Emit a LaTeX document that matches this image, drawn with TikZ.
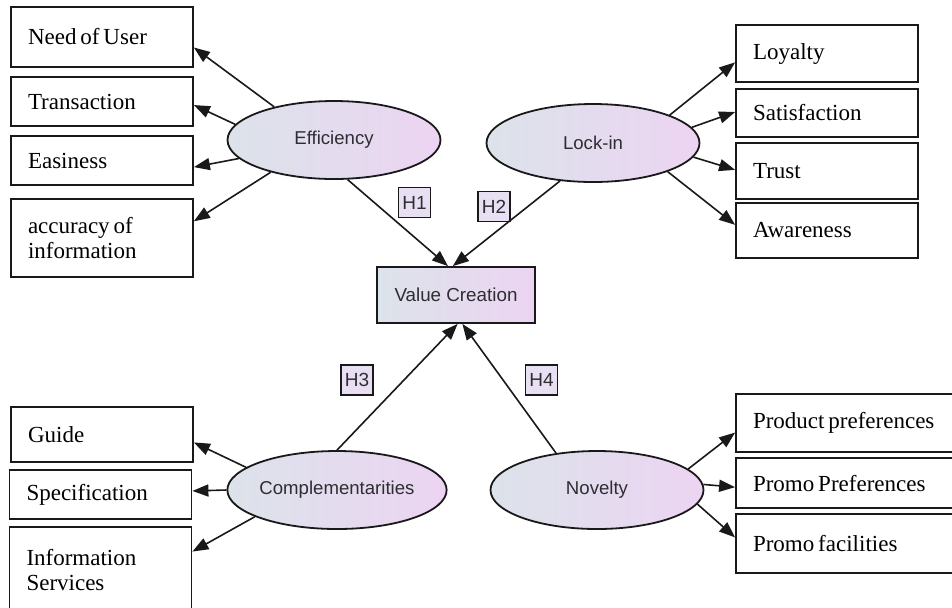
\documentclass[tikz,border=0pt]{standalone}
\usepackage{fontspec}
\setmainfont{Liberation Serif}
\setsansfont{Liberation Sans}
\usepackage{tikz}
\usetikzlibrary{arrows.meta,calc,shapes.geometric}
\definecolor{ink}{RGB}{25,25,25}
\definecolor{txt}{RGB}{45,45,50}
\definecolor{latL}{RGB}{220,227,234}
\definecolor{latR}{RGB}{236,212,242}
\definecolor{hfill}{RGB}{232,224,242}
\newcommand{\tightspace}{\spaceskip=0.17em\relax}
\tikzset{
  ind/.style={draw=ink,line width=0.9pt,rectangle,inner xsep=8.5pt,inner ysep=0pt,
    text width=74pt,align=left,font=\fontsize{11.5}{12.5}\selectfont,
    execute at begin node=\tightspace},
  lat/.style={draw=ink,line width=0.9pt,ellipse,inner sep=0pt,minimum width=106.5pt,
    minimum height=39pt,left color=latL,right color=latR,text=txt,font=\sffamily\fontsize{9.3}{10}\selectfont},
  vc/.style={draw=ink,line width=0.9pt,rectangle,minimum width=79pt,minimum height=28pt,
    left color=latL,right color=latR,text=txt,font=\sffamily\fontsize{9.4}{10}\selectfont},
  hyp/.style={draw=ink,line width=0.8pt,fill=hfill,inner sep=0pt,minimum width=16pt,
    minimum height=15pt,text=txt,font=\sffamily\fontsize{9.5}{10}\selectfont},
  arr/.style={-{Triangle[length=8pt,width=6pt]},line width=0.8pt,ink},
}

\begin{document}
\begin{tikzpicture}[x=0.5pt,y=-0.5pt]
  \clip (0,0) rectangle (952,607);
  % left top indicators
  \node[ind,minimum height=30pt] (need) at (102,37) {Need of User};
  \node[ind,minimum height=24.5pt] (trans) at (102,101.5) {Transaction};
  \node[ind,minimum height=24.5pt] (eas) at (102,160.5) {Easiness};
  \node[ind,minimum height=39pt] (acc) at (102,238) {accuracy of\\information};
  % right top indicators
  \node[ind,minimum height=28.5pt] (loy) at (827,53.5) {Loyalty};
  \node[ind,minimum height=24pt] (sat) at (827,113) {Satisfaction};
  \node[ind,minimum height=28pt] (tru) at (827,171) {Trust};
  \node[ind,minimum height=27.5pt] (awa) at (827,230.5) {Awareness};
  % left bottom indicators
  \node[ind,minimum height=27.5pt] (gui) at (102,434.5) {Guide};
  \node[ind,minimum height=24.5pt] (spe) at (100.5,494.5) {Specification};
  \node[ind,minimum height=43pt] (inf) at (100.5,570) {Information\\Services};
  % right bottom indicators
  \node[ind,text width=98pt,minimum height=29pt] (pro) at (851,423) {Product preferences};
  \node[ind,text width=98pt,minimum height=25pt] (ppr) at (851,483) {Promo Preferences};
  \node[ind,text width=98pt,minimum height=29.5pt] (pfa) at (851,543.5) {Promo facilities};

  % latent variables
  \node[lat] (eff) at (334,140) {Efficiency};
  \node[lat] (lock) at (593,143) {Lock-in};
  \node[lat] (comp) at (337,490) {Complementarities};
  \node[lat] (nov) at (597,490) {Novelty};
  \node[vc] (val) at (456,295) {Value Creation};

  % hypotheses
  \node[hyp] (h1) at (414.5,202.5) {H1};
  \node[hyp] (h2) at (494,206.5) {H2};
  \node[hyp] (h3) at (357,380) {H3};
  \node[hyp] (h4) at (541.5,380) {H4};

  % efficiency
  \draw[arr] (eff.151) -- ($(need.south east)!.33!(need.north east)$);
  \draw[arr] (eff.171) -- ($(trans.south east)!.43!(trans.north east)$);
  \draw[arr] (eff.191) -- ($(eas.south east)!.37!(eas.north east)$);
  \draw[arr] (eff.207) -- ($(acc.south east)!.71!(acc.north east)$);
  % lock-in
  \draw[arr] (lock.20) -- ($(loy.south west)!.35!(loy.north west)$);
  \draw[arr] (lock.9) -- ($(sat.south west)!.52!(sat.north west)$);
  \draw[arr] (lock.-8) -- ($(tru.south west)!.52!(tru.north west)$);
  \draw[arr] (lock.-21) -- ($(awa.south west)!.6!(awa.north west)$);
  % complementarities
  \draw[arr] (comp.166) -- ($(gui.south east)!.36!(gui.north east)$);
  \draw[arr] (comp.180) -- ($(spe.south east)!.57!(spe.north east)$);
  \draw[arr] (comp.198) -- ($(inf.south east)!.71!(inf.north east)$);
  % novelty
  \draw[arr] (nov.13) -- ($(pro.south west)!.34!(pro.north west)$);
  \draw[arr] (nov.3) -- ($(ppr.south west)!.42!(ppr.north west)$);
  \draw[arr] (nov.-8) -- ($(pfa.south west)!.6!(pfa.north west)$);

  % paths to value creation
  \draw[arr] (eff.289) -- ($(val.north west)!.45!(val.north east)$);
  \draw[arr] (lock.229) -- ($(val.north west)!.48!(val.north east)$);
  \draw[arr] (comp.90) -- ($(val.south west)!.51!(val.south east)$);
  \draw[arr] (nov.138) -- ($(val.south west)!.54!(val.south east)$);
\end{tikzpicture}
\end{document}
